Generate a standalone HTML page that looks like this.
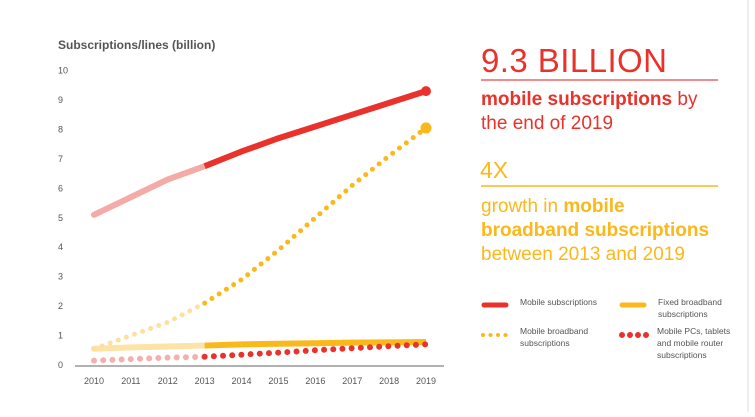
<!DOCTYPE html>
<html><head><meta charset="utf-8"><style>
body{margin:0;width:755px;height:412px;background:#fff;overflow:hidden;font-family:"Liberation Sans",sans-serif}
</style></head><body>
<svg width="755" height="412" xmlns="http://www.w3.org/2000/svg">
<line x1="748" y1="0" x2="748" y2="412" stroke="#ddd" stroke-width="1"/>
<text x="58" y="49" font-size="12" font-weight="bold" fill="#555">Subscriptions/lines (billion)</text>
<g id="axes"></g>
<g id="series"></g>
<g>
<text x="481" y="72" font-size="33" fill="#e8322b" textLength="186">9.3 BILLION</text>
<line x1="481" y1="80" x2="718" y2="80" stroke="#e66" stroke-width="1.5"/>
<text x="481" y="105" font-size="19" fill="#e8322b"><tspan font-weight="bold">mobile subscriptions</tspan> by</text>
<text x="481" y="129" font-size="19" fill="#e8322b">the end of 2019</text>
<text x="480" y="178" font-size="23" fill="#fbb81b">4X</text>
<line x1="481" y1="186" x2="718" y2="186" stroke="#fbb81b" stroke-width="1.5"/>
<text x="481" y="212" font-size="19" fill="#fbb81b">growth in <tspan font-weight="bold">mobile</tspan></text>
<text x="481" y="236" font-size="19" fill="#fbb81b" font-weight="bold">broadband subscriptions</text>
<text x="481" y="260" font-size="19" fill="#fbb81b">between 2013 and 2019</text>
</g>
<g font-size="8.5" fill="#555">
<g><line x1="484" y1="305" x2="506" y2="305" stroke="#e8322b" stroke-width="5" stroke-linecap="round"/><text x="520" y="305">Mobile subscriptions</text></g>
<g><line x1="622" y1="305" x2="644" y2="305" stroke="#fbb81b" stroke-width="5" stroke-linecap="round"/><text x="658" y="305">Fixed broadband</text><text x="658" y="317">subscriptions</text></g>
<g><line x1="483" y1="335" x2="508" y2="335" stroke="#fbb81b" stroke-width="4" stroke-linecap="round" stroke-dasharray="0 7.5"/><text x="520" y="334">Mobile broadband</text><text x="520" y="346">subscriptions</text></g>
<g><line x1="622" y1="335" x2="647" y2="335" stroke="#e8322b" stroke-width="6" stroke-linecap="round" stroke-dasharray="0 8"/><text x="657" y="334">Mobile PCs, tablets</text><text x="657" y="346">and mobile router</text><text x="657" y="358">subscriptions</text></g>
</g>
</svg>
<script>
const years=[2010,2011,2012,2013,2014,2015,2016,2017,2018,2019];
const yTicks=[0,1,2,3,4,5,6,7,8,9,10];
const mobileSubs=[5.1,5.7,6.3,6.75,7.25,7.7,8.1,8.5,8.9,9.3];
const mobileBroadband=[0.55,1.0,1.45,2.1,2.9,3.9,5.0,6.1,7.1,8.05];
const fixedBroadband=[0.55,0.6,0.63,0.66,0.7,0.72,0.74,0.76,0.77,0.78];
const mobilePCs=[0.15,0.2,0.25,0.28,0.35,0.42,0.5,0.57,0.64,0.7];
const NS="http://www.w3.org/2000/svg";
const x=i=>94+i*(426-94)/(years.length-1);
const y=v=>365-v*29.45;
const axes=document.getElementById('axes'),ser=document.getElementById('series');
function mk(tag,attrs,parent){const e=document.createElementNS(NS,tag);for(const k in attrs)e.setAttribute(k,attrs[k]);parent.appendChild(e);return e;}
const al=mk('line',{x1:75,x2:444,y1:y(0)+1,y2:y(0)+1,stroke:'#999','stroke-width':1.5},axes);


yTicks.forEach(t=>{const e=mk('text',{x:58,y:y(t)+3,'font-size':9,fill:'#555'},axes);e.textContent=t;

});
years.forEach((yr,i)=>{const e=mk('text',{x:x(i),y:384,'font-size':9,fill:'#555','text-anchor':'middle'},axes);e.textContent=yr;

});
function pts(arr,a,b){return arr.slice(a,b+1).map((v,j)=>x(a+j)+','+y(v)).join(' ');}
function series(arr,name,light,dark,w,dash){
  const p1=mk('polyline',{points:pts(arr,0,3),fill:'none',stroke:light,'stroke-width':w,'stroke-linecap':'round','stroke-linejoin':'round'},ser);
  const p2=mk('polyline',{points:pts(arr,3,9),fill:'none',stroke:dark,'stroke-width':w,'stroke-linecap':dash?'round':'butt','stroke-linejoin':'round'},ser);
  if(dash){p1.setAttribute('stroke-dasharray',dash);p2.setAttribute('stroke-dasharray',dash);}
  
  
  
  
}
series(fixedBroadband,'fixed-broadband-line','#fde3a6','#fbb81b',6,null);
series(mobilePCs,'mobile-pcs-line','#f4b0ac','#e8322b',6,'0 9.2');
series(mobileBroadband,'mobile-broadband-line','#fde0a0','#fbb81b',5,'0 8.6');
series(mobileSubs,'mobile-subscriptions-line','#f4aaa6','#e8322b',6,null);
const d1=mk('circle',{cx:x(9),cy:y(mobileSubs[9]),r:5,fill:'#e8322b'},ser);


const d2=mk('circle',{cx:x(9),cy:y(mobileBroadband[9]),r:5.5,fill:'#fbb81b'},ser);


</script>
</body></html>
